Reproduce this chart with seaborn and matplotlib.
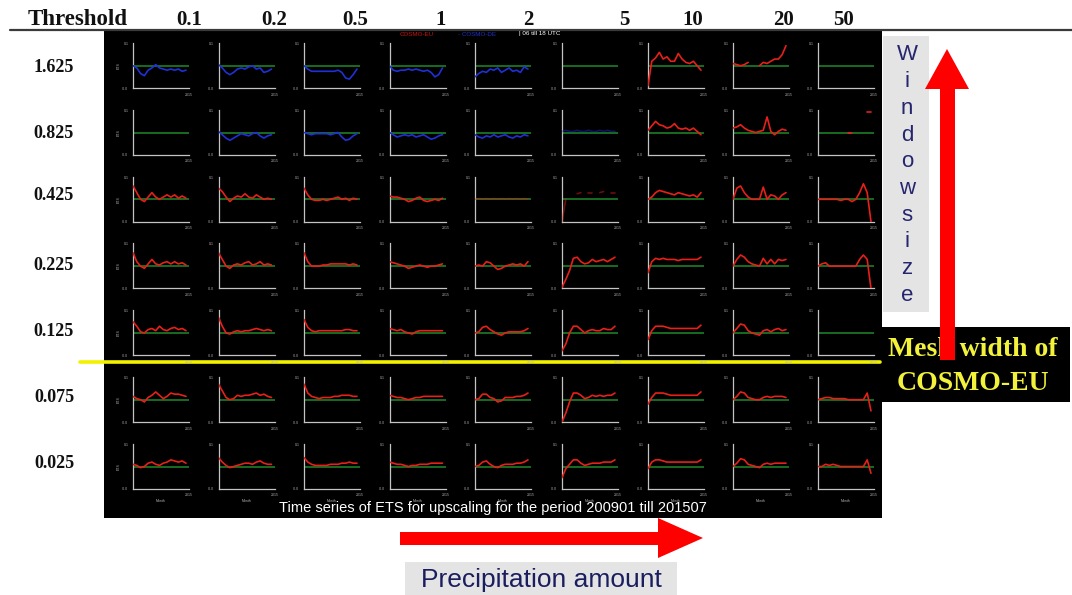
import numpy as np
import pandas as pd
import matplotlib
matplotlib.use("Agg")
import matplotlib.pyplot as plt
import seaborn as sns
from matplotlib.patches import Rectangle, Polygon

# ---------------------------------------------------------------- data
thresholds = ["0.1", "0.2", "0.5", "1", "2", "5", "10", "20", "50"]
window_sizes = ["1.625", "0.825", "0.425", "0.225", "0.125", "0.075", "0.025"]

nan = np.nan
# ETS difference COSMO-EU - COSMO-DE, one list per threshold (15 time steps)
ets_1625 = [
    [0.0, -0.1, -0.35, -0.45, -0.2, -0.1, 0.05, -0.1, -0.15, -0.2, -0.15, -0.2, -0.15, -0.25, -0.2],
    [0.05, -0.1, -0.3, -0.4, -0.3, -0.15, -0.1, -0.15, -0.05, 0.0, -0.15, -0.1, -0.3, -0.25, -0.15],
    [0.0, -0.15, -0.25, -0.25, -0.25, -0.25, -0.25, -0.25, -0.25, -0.2, -0.3, -0.55, -0.6, -0.4, -0.15],
    [0.0, -0.2, -0.25, -0.2, -0.2, -0.15, -0.2, -0.15, -0.2, -0.25, -0.2, -0.3, -0.5, -0.4, -0.1],
    [-0.5, -0.35, -0.25, -0.3, -0.15, -0.2, -0.1, -0.3, -0.2, -0.1, -0.25, -0.2, -0.3, -0.05, -0.15],
    [nan] * 15,
    [-0.9, 0.2, 0.35, 0.6, 0.3, 0.4, 0.2, 0.2, 0.55, 0.3, 0.15, 0.1, 0.2, 0.0, -0.2],
    [0.1, 0.05, 0.0, 0.05, 0.15, nan, nan, 0.0, 0.15, 0.1, 0.2, 0.3, 0.3, 0.5, 0.9],
    [nan] * 15,
]
ets_0825 = [
    [nan] * 15,
    [0.05, -0.1, -0.25, -0.35, -0.25, -0.15, -0.05, -0.1, -0.15, -0.05, 0.0, -0.15, -0.25, -0.15, -0.1],
    [0.0, -0.05, -0.1, -0.05, -0.05, -0.05, -0.05, -0.1, -0.05, 0.0, -0.2, -0.35, -0.3, -0.15, -0.05],
    [0.0, -0.1, -0.2, -0.15, -0.1, -0.15, -0.1, -0.2, -0.15, -0.1, -0.2, -0.3, -0.25, -0.15, -0.1],
    [-0.1, -0.2, -0.25, -0.15, -0.2, -0.1, -0.2, -0.15, -0.1, -0.2, -0.25, -0.15, -0.2, -0.1, -0.15],
    [0.05, 0.1, 0.05, 0.05, 0.1, 0.05, 0.05, 0.1, 0.05, 0.05, 0.1, 0.05, 0.1, 0.05, 0.05],
    [0.1, 0.3, 0.5, 0.35, 0.3, 0.2, 0.25, 0.4, 0.2, 0.15, 0.2, 0.1, 0.2, 0.05, -0.1],
    [0.2, 0.25, 0.35, 0.2, 0.1, 0.05, 0.0, 0.05, 0.1, 0.7, 0.05, -0.1, 0.05, 0.15, 0.1],
    [nan, nan, nan, nan, nan, nan, nan, nan, 0.0, 0.0, nan, nan, nan, 0.9, 0.9],
]
ets_0425 = [
    [0.6, 0.3, 0.0, -0.1, 0.1, 0.3, 0.1, 0.0, 0.1, 0.2, 0.1, 0.2, 0.05, 0.15, 0.05],
    [0.5, 0.35, 0.1, -0.1, 0.05, 0.15, 0.1, 0.25, 0.1, 0.05, 0.2, 0.1, 0.0, 0.05, 0.0],
    [0.5, 0.2, 0.0, -0.05, -0.05, 0.0, -0.05, 0.0, 0.05, 0.1, 0.0, 0.05, -0.05, 0.05, 0.0],
    [0.15, 0.1, 0.1, 0.05, 0.0, -0.1, -0.05, 0.05, 0.1, -0.05, -0.1, -0.05, 0.0, -0.05, 0.05],
    [0.0, 0.03, 0.02, 0.03, 0.02, 0.03, 0.02, 0.03, 0.02, 0.03, 0.02, 0.03, 0.02, 0.03, 0.02],
    [-1.0, 0.0, nan, nan, 0.25, 0.3, nan, 0.3, 0.3, nan, 0.3, 0.35, nan, 0.3, 0.3],
    [0.0, 0.1, 0.3, 0.4, 0.35, 0.3, 0.25, 0.2, 0.3, 0.25, 0.2, 0.15, 0.2, 0.1, 0.3],
    [0.0, 0.5, 0.6, 0.3, 0.1, 0.0, 0.0, 0.0, 0.55, 0.0, 0.2, 0.15, 0.0, 0.2, 0.3],
    [0.0, 0.0, 0.0, 0.0, 0.0, 0.0, -0.05, 0.0, 0.0, -0.1, 0.0, 0.3, 0.7, 0.3, -1.0],
]
ets_0225 = [
    [0.6, 0.2, 0.0, -0.1, 0.1, 0.3, 0.1, 0.05, 0.15, 0.2, 0.1, 0.2, 0.1, 0.15, 0.05],
    [0.6, 0.3, 0.0, -0.1, 0.05, 0.1, 0.05, 0.15, 0.2, 0.05, 0.1, 0.2, 0.05, 0.1, 0.05],
    [0.6, 0.2, 0.0, 0.0, 0.0, 0.05, 0.05, 0.1, 0.1, 0.1, 0.1, 0.1, 0.05, 0.1, 0.05],
    [0.2, 0.15, 0.1, 0.05, 0.0, -0.1, -0.05, 0.0, 0.05, 0.0, -0.05, 0.0, 0.0, 0.05, 0.1],
    [0.0, 0.05, 0.0, 0.2, 0.15, 0.0, -0.15, -0.1, 0.0, 0.05, 0.1, 0.05, 0.1, 0.0, 0.2],
    [-0.95, -0.6, -0.2, 0.35, 0.4, 0.2, 0.1, 0.15, 0.3, 0.2, 0.25, 0.3, 0.2, 0.3, 0.4],
    [-0.3, 0.2, 0.35, 0.3, 0.35, 0.3, 0.3, 0.3, 0.25, 0.3, 0.3, 0.3, 0.3, 0.3, 0.4],
    [0.0, 0.3, 0.5, 0.4, 0.2, 0.1, 0.05, 0.0, 0.35, 0.1, 0.3, 0.1, 0.3, 0.25, 0.3],
    [0.0, 0.1, 0.15, 0.0, 0.0, 0.0, 0.0, 0.0, 0.0, 0.0, 0.0, 0.3, 0.5, 0.3, -1.0],
]
ets_0125 = [
    [0.5, 0.3, 0.05, 0.0, 0.15, 0.2, 0.1, 0.3, 0.15, 0.1, 0.2, 0.25, 0.15, 0.2, 0.1],
    [0.7, 0.3, 0.0, -0.05, 0.05, 0.1, 0.05, 0.1, 0.1, 0.15, 0.2, 0.15, 0.1, 0.15, 0.1],
    [0.6, 0.25, 0.1, 0.05, 0.1, 0.1, 0.1, 0.1, 0.1, 0.1, 0.1, 0.15, 0.15, 0.1, 0.1],
    [0.2, 0.15, 0.1, 0.15, 0.05, 0.0, -0.05, 0.05, 0.1, 0.1, 0.1, 0.1, 0.1, 0.1, 0.1],
    [0.0, 0.05, 0.25, 0.3, 0.15, 0.05, -0.05, -0.1, 0.0, 0.05, 0.05, 0.05, 0.05, 0.1, 0.2],
    [-0.8, -0.5, 0.0, 0.3, 0.3, 0.15, 0.0, 0.1, 0.15, 0.1, 0.1, 0.2, 0.15, 0.15, 0.3],
    [-0.3, 0.1, 0.3, 0.3, 0.3, 0.25, 0.2, 0.2, 0.2, 0.2, 0.2, 0.2, 0.2, 0.2, 0.35],
    [0.0, 0.2, 0.4, 0.35, 0.1, 0.0, -0.05, -0.1, 0.1, 0.15, 0.05, 0.15, 0.2, 0.1, 0.15],
    [nan] * 15,
]
ets_0075 = [
    [0.15, 0.05, 0.0, -0.1, 0.1, 0.2, 0.35, 0.2, 0.05, 0.15, 0.3, 0.25, 0.25, 0.2, 0.15],
    [0.7, 0.4, 0.1, 0.0, 0.05, 0.2, 0.15, 0.2, 0.2, 0.25, 0.3, 0.2, 0.25, 0.15, 0.1],
    [0.7, 0.3, 0.15, 0.1, 0.05, 0.1, 0.1, 0.1, 0.15, 0.15, 0.2, 0.2, 0.2, 0.15, 0.15],
    [0.2, 0.15, 0.1, 0.1, 0.05, 0.0, 0.05, 0.1, 0.1, 0.15, 0.15, 0.15, 0.15, 0.15, 0.15],
    [0.0, 0.05, 0.25, 0.25, 0.1, 0.05, -0.1, -0.05, 0.1, 0.1, 0.1, 0.15, 0.15, 0.2, 0.3],
    [-1.0, -0.6, -0.1, 0.3, 0.3, 0.2, 0.05, 0.1, 0.2, 0.15, 0.2, 0.15, 0.2, 0.2, 0.3],
    [-0.2, 0.1, 0.3, 0.3, 0.3, 0.25, 0.2, 0.2, 0.2, 0.2, 0.2, 0.2, 0.2, 0.2, 0.35],
    [0.0, 0.15, 0.35, 0.3, 0.1, 0.05, 0.0, 0.0, 0.1, 0.15, 0.1, 0.15, 0.15, 0.15, 0.1],
    [0.0, 0.05, 0.1, 0.1, 0.05, 0.05, 0.05, 0.05, 0.0, 0.0, 0.0, 0.0, 0.0, 0.3, -0.5],
]
ets_0025 = [
    [0.1, 0.05, -0.05, 0.0, 0.15, 0.2, 0.1, 0.05, 0.15, 0.2, 0.3, 0.25, 0.2, 0.25, 0.15],
    [0.4, 0.2, 0.05, -0.05, 0.0, 0.05, 0.1, 0.15, 0.15, 0.1, 0.2, 0.25, 0.15, 0.1, 0.1],
    [0.4, 0.2, 0.1, 0.05, 0.05, 0.05, 0.05, 0.1, 0.1, 0.1, 0.15, 0.15, 0.2, 0.15, 0.15],
    [0.2, 0.15, 0.1, 0.1, 0.05, 0.0, 0.05, 0.05, 0.1, 0.1, 0.1, 0.15, 0.15, 0.15, 0.15],
    [0.0, 0.05, 0.2, 0.25, 0.1, 0.0, -0.05, 0.05, 0.1, 0.1, 0.1, 0.15, 0.15, 0.2, 0.3],
    [-0.5, -0.1, 0.1, 0.3, 0.3, 0.15, 0.05, 0.1, 0.15, 0.15, 0.15, 0.2, 0.2, 0.2, 0.3],
    [-0.1, 0.2, 0.3, 0.3, 0.25, 0.2, 0.2, 0.2, 0.2, 0.2, 0.2, 0.2, 0.2, 0.2, 0.3],
    [0.0, 0.15, 0.35, 0.3, 0.1, 0.05, 0.0, -0.05, 0.1, 0.15, 0.1, 0.15, 0.15, 0.15, 0.15],
    [0.0, 0.0, 0.1, 0.05, 0.1, 0.05, 0.0, 0.0, 0.0, 0.0, 0.0, 0.0, 0.0, 0.3, -0.3],
]
ets_rows = [ets_1625, ets_0825, ets_0425, ets_0225, ets_0125, ets_0075, ets_0025]

# ---------------------------------------------------------------- style
sns.set_style("white")
plt.rcParams["font.family"] = ["Liberation Sans", "DejaVu Sans"]

W, H = 1072, 595
fig = plt.figure(figsize=(W / 100, H / 100), dpi=100)
fig.patch.set_facecolor("white")

bg = fig.add_axes([0, 0, 1, 1])
bg.set_xlim(0, W)
bg.set_ylim(H, 0)
bg.axis("off")

RED, BLUE, GREEN = "#e8201a", "#2030d8", "#1f8a2a"
NAVY = "#25266e"
SERIF = ["Liberation Serif", "DejaVu Serif"]


def px_axes(x, y, w, h):
    return fig.add_axes([x / W, 1 - (y + h) / H, w / W, h / H])


# black panel area and separator lines
bg.add_patch(Rectangle((104, 30), 778, 488, facecolor="black", edgecolor="none", zorder=1))
bg.plot([10, 1072], [30, 30], color="#3a3a3a", lw=1.6, zorder=2)
bg.plot([80, 880], [362, 362], color="#f2f200", lw=2.6, zorder=3)

# header
bg.text(78, 25, "Threshold", family=SERIF, weight="bold", fontsize=16.5, ha="center", va="baseline", color="#111")
thr_x = [189, 274, 355, 441, 528, 624, 693, 783, 843]
for lab, x in zip(thresholds, thr_x):
    bg.text(x, 25, lab, family=SERIF, weight="bold", fontsize=15, ha="center", va="baseline", color="#111")

row_y = [67, 134, 196, 265, 331, 397, 463]
for lab, y in zip(window_sizes, row_y):
    bg.text(54, y, lab, family=SERIF, weight="bold", fontsize=13, ha="center", va="center", color="#111")

# legend strip of the panel image
bg.text(400, 34, "COSMO-EU", color="#d01010", fontsize=4.5, va="center", zorder=4)
bg.text(458, 34, "- COSMO-DE", color="#2030c8", fontsize=4.5, va="center", zorder=4)
bg.text(519, 34, "| 06 till 18 UTC", color="white", fontsize=4.5, va="center", zorder=4)

# small multiples
col_x = [133, 218.5, 304, 389.5, 475, 562, 648, 733, 818]
faint = {(1, 5), (2, 4), (2, 5)}
for i, row in enumerate(ets_rows):
    top = 43 + 66.8 * i
    for j, series in enumerate(row):
        ax = px_axes(col_x[j], top, 56, 45)
        ax.set_facecolor("none")
        ax.set_xlim(0, 14.8)
        ax.set_ylim(-1, 1.02)
        ax.axhline(0, color=GREEN, lw=1.1, zorder=2)
        color = BLUE if (i < 2 and j < 6) else RED
        alpha = 0.45 if (i, j) in faint else 1.0
        s = pd.Series(series, dtype=float)
        valid = s.notna()
        for _, seg in s[valid].groupby((~valid).cumsum()[valid]):
            if len(seg) > 1:
                sns.lineplot(x=seg.index.to_numpy(), y=seg.to_numpy(), ax=ax, color=color,
                             lw=1.2, alpha=alpha, legend=False, zorder=3)
        for side in ("top", "right"):
            ax.spines[side].set_visible(False)
        for side in ("left", "bottom"):
            ax.spines[side].set_color("#c4c4c4")
            ax.spines[side].set_linewidth(0.9)
        ax.set_yticks([-1, 1])
        ax.set_yticklabels(["-0.0", "0.1"])
        ax.set_xticks([14.8])
        ax.set_xticklabels(["2015"])
        ax.tick_params(axis="both", colors="#c4c4c4", labelsize=2.5, length=2.5, width=0.8,
                       direction="out", pad=0.8, labelcolor="#b0b0b0")
        ax.set_ylabel("ETS" if j == 0 else "", fontsize=2.5, color="#b0b0b0", labelpad=1)
        ax.set_xlabel("Month" if i == len(ets_rows) - 1 else "", fontsize=2.5,
                      color="#b0b0b0", labelpad=1)

bg.text(493, 508, "Time series of ETS for upscaling for the period 200901 till 201507",
        color="white", fontsize=10.5, ha="center", va="center", zorder=4)

# window size label and arrow
bg.add_patch(Rectangle((883, 36), 46, 276, facecolor="#e4e4e4", edgecolor="none", zorder=2))
for k, ch in enumerate("Windowsize"):
    bg.text(907, 55 + 26.7 * k, ch, color=NAVY, fontsize=16, ha="center", va="center", zorder=3)

bg.add_patch(Rectangle((882, 327), 188, 75, facecolor="black", edgecolor="none", zorder=4))
bg.text(973, 350, "Mesh width of", family=SERIF, weight="bold", fontsize=20,
        color="#f2f23a", ha="center", va="center", zorder=5)
bg.text(973, 383, "COSMO-EU", family=SERIF, weight="bold", fontsize=20,
        color="#f2f23a", ha="center", va="center", zorder=5)

bg.add_patch(Polygon([(940, 360), (940, 89), (925, 89), (947, 49), (969, 89), (955, 89), (955, 360)],
                     closed=True, facecolor="#ff0000", edgecolor="none", zorder=6))

# precipitation arrow and label
bg.add_patch(Polygon([(400, 532), (658, 532), (658, 518), (703, 538), (658, 558), (658, 545), (400, 545)],
                     closed=True, facecolor="#ff0000", edgecolor="none", zorder=6))
bg.add_patch(Rectangle((405, 562), 272, 33, facecolor="#e4e4e4", edgecolor="none", zorder=2))
bg.text(541, 580, "Precipitation amount", color="#1c1d5e", fontsize=19,
        ha="center", va="center", zorder=3)

fig.savefig("out.png", dpi=100, facecolor="white")
